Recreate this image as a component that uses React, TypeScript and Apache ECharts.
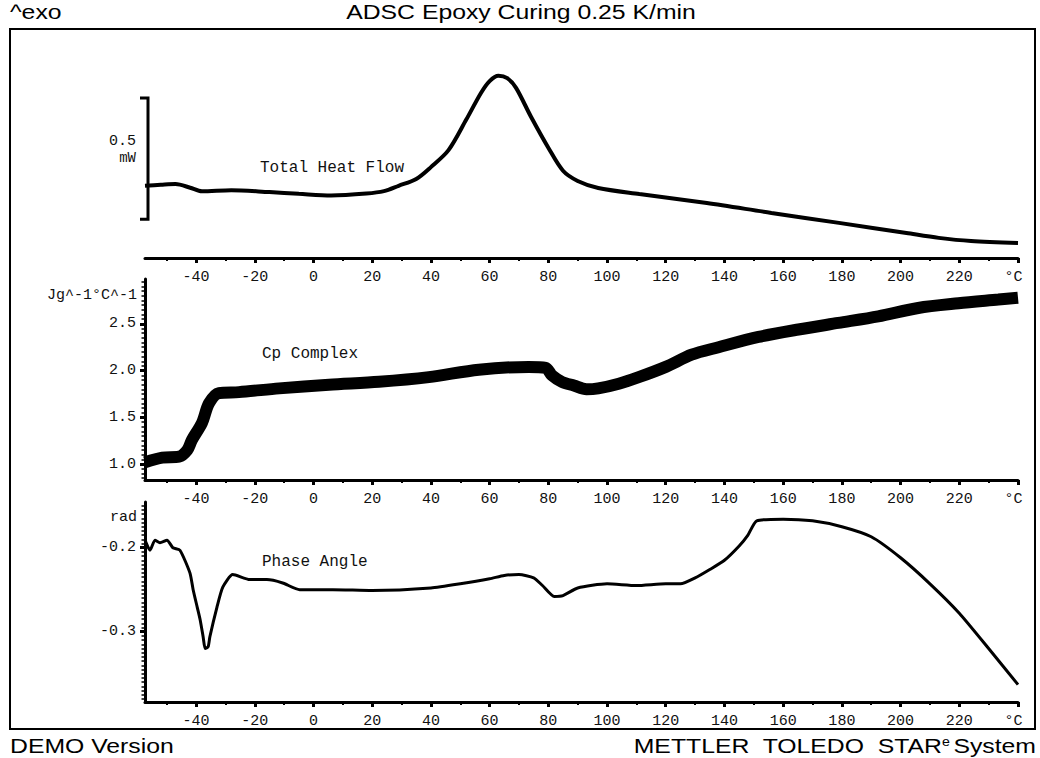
import React, { useEffect, useRef } from "react";
import * as echarts from "echarts";

// ---- data ----
const X_MIN = -57.4;
const X_MAX = 240;
const X_MAJOR = [-40, -20, 0, 20, 40, 60, 80, 100, 120, 140, 160, 180, 200, 220, 240];
const X_MINOR = [-50, -30, -10, 10, 30, 50, 70, 90, 110, 130, 150, 170, 190, 210, 230];

// Total Heat Flow (mW, relative offset)
const HF_T = [-57.4, -52, -47, -42, -38, -28, -15, -5, 6, 18, 24, 29, 35, 40, 46, 52, 57, 60, 63, 66, 69, 74, 80, 85, 90, 97, 111, 134, 156, 179, 202, 213, 224, 240];
const HF_V = [0.298, 0.302, 0.305, 0.29, 0.275, 0.28, 0.272, 0.265, 0.258, 0.266, 0.276, 0.298, 0.326, 0.375, 0.445, 0.57, 0.68, 0.73, 0.752, 0.742, 0.702, 0.585, 0.455, 0.36, 0.318, 0.289, 0.264, 0.227, 0.186, 0.145, 0.103, 0.083, 0.07, 0.062];
const HF_SCALE_BAR = [0.16, 0.66];

// Cp Complex (J g^-1 °C^-1)
const CP_T = [-57.4, -51.5, -45.8, -43, -41.4, -38, -35.6, -32.2, -25.4, -11.7, 5.3, 22.3, 39.3, 56.3, 73.3, 79.1, 81.2, 84.6, 88.7, 93, 97, 104, 110.8, 120, 128.8, 138, 151.6, 165.2, 178.8, 192.4, 206, 219.7, 233.3, 240];
const CP_V = [1.02, 1.07, 1.08, 1.15, 1.26, 1.44, 1.65, 1.76, 1.77, 1.81, 1.85, 1.88, 1.93, 2.01, 2.04, 2.03, 1.95, 1.88, 1.84, 1.8, 1.81, 1.86, 1.93, 2.04, 2.17, 2.25, 2.36, 2.44, 2.51, 2.58, 2.67, 2.72, 2.76, 2.78];
const CP_TICKS = [1.0, 1.5, 2.0, 2.5];
const CP_MIN = 0.83;
const CP_MAX = 2.98;
const CP_MINOR_STEP = 0.05;

// Phase Angle (rad)
const PH_T = [-57.4, -55.7, -54, -52.3, -49.9, -47.9, -45.5, -42.1, -41, -39.6, -38.6, -37.6, -36.9, -35.9, -35.3, -32.9, -30.9, -27.5, -21.7, -15.9, -10.5, -4.7, 6.6, 20, 40, 50, 60, 65, 70, 75, 78, 82, 85, 90, 100, 110, 120, 125, 130, 135, 140, 145, 148, 151, 160, 170, 180, 190, 200, 210, 220, 230, 240];
const PH_V = [-0.191, -0.203, -0.191, -0.194, -0.191, -0.2, -0.203, -0.23, -0.25, -0.271, -0.286, -0.306, -0.32, -0.318, -0.306, -0.271, -0.247, -0.232, -0.238, -0.238, -0.242, -0.25, -0.25, -0.251, -0.248, -0.243, -0.237, -0.233, -0.232, -0.236, -0.245, -0.258, -0.257, -0.248, -0.243, -0.245, -0.243, -0.243, -0.236, -0.226, -0.215, -0.198, -0.185, -0.168, -0.166, -0.168, -0.175, -0.187, -0.212, -0.243, -0.278, -0.32, -0.363];
const PH_TICKS = [-0.3, -0.2];
const PH_MIN = -0.3837;
const PH_MAX = -0.1456;
const PH_MINOR_STEP = 0.005;

const zip = (xs: number[], ys: number[]) => xs.map((x, i) => [x, ys[i]]);
const stepsBetween = (lo: number, hi: number, step: number) => {
  const out: number[] = [];
  for (let k = Math.ceil(lo / step); k * step <= hi; k++) out.push(+(k * step).toFixed(4));
  return out;
};

const MONO = "Liberation Mono";
const SANS = "Liberation Sans";
const INK = "#000";
const SANS_SIZE = 21;
const SANS_STRETCH = 1.18;

export default function App() {
  const ref = useRef<HTMLDivElement>(null);

  useEffect(() => {
    document.body.style.margin = "0";
    const chart = echarts.init(ref.current!, null, { renderer: "svg" });

    const grids = [
      { left: 145, right: 22, top: 52, height: 206 },
      { left: 145, right: 22, top: 279, height: 201 },
      { left: 145, right: 22, top: 502, height: 200 },
    ];

    const xMajor = (gridIndex: number) => ({
      type: "value",
      gridIndex,
      position: "bottom",
      min: X_MIN,
      max: X_MAX,
      axisLine: { show: true, onZero: false, lineStyle: { color: INK, width: 3 } },
      axisTick: { show: true, customValues: X_MAJOR, length: 5, lineStyle: { color: INK, width: 3 } },
      axisLabel: {
        customValues: X_MAJOR,
        margin: 12,
        fontFamily: MONO,
        fontSize: 15,
        color: "#111",
        formatter: (v: number) => (v === 240 ? "°C " : String(v)),
      },
      splitLine: { show: false },
    });
    const xMinor = (gridIndex: number) => ({
      type: "value",
      gridIndex,
      position: "bottom",
      min: X_MIN,
      max: X_MAX,
      axisLine: { show: false, onZero: false },
      axisTick: { show: true, customValues: X_MINOR, length: 3, lineStyle: { color: INK, width: 2 } },
      axisLabel: { show: false },
      splitLine: { show: false },
    });

    const yMajor = (gridIndex: number, min: number, max: number, ticks: number[]) => ({
      type: "value",
      gridIndex,
      position: "left",
      min,
      max,
      axisLine: { show: true, onZero: false, lineStyle: { color: INK, width: 3 } },
      axisTick: { show: true, customValues: ticks, length: 5, lineStyle: { color: INK, width: 3 } },
      axisLabel: {
        customValues: ticks,
        margin: 9,
        fontFamily: MONO,
        fontSize: 15,
        color: "#111",
        formatter: (v: number) => v.toFixed(1),
      },
      splitLine: { show: false },
    });
    const yMinor = (gridIndex: number, min: number, max: number, step: number) => ({
      type: "value",
      gridIndex,
      position: "left",
      offset: 0,
      min,
      max,
      axisLine: { show: false, onZero: false },
      axisTick: { show: true, customValues: stepsBetween(min, max, step), length: 3.5, lineStyle: { color: INK, width: 1.5 } },
      axisLabel: { show: false },
      splitLine: { show: false },
    });

    chart.setOption({
      animation: false,
      backgroundColor: "#fff",
      grid: grids,
      xAxis: [xMajor(0), xMinor(0), xMajor(1), xMinor(1), xMajor(2), xMinor(2)],
      yAxis: [
        { type: "value", gridIndex: 0, min: 0, max: 0.85, show: false },
        yMajor(1, CP_MIN, CP_MAX, CP_TICKS),
        yMajor(2, PH_MIN, PH_MAX, PH_TICKS),
        yMinor(1, CP_MIN, CP_MAX, CP_MINOR_STEP),
        yMinor(2, PH_MIN, PH_MAX, PH_MINOR_STEP),
      ],
      series: [
        {
          name: "Total Heat Flow",
          type: "line",
          xAxisIndex: 0,
          yAxisIndex: 0,
          data: zip(HF_T, HF_V),
          symbol: "none",
          smooth: 0.3,
          lineStyle: { color: INK, width: 4 },
        },
        {
          name: "Cp Complex",
          type: "line",
          xAxisIndex: 2,
          yAxisIndex: 1,
          data: zip(CP_T, CP_V),
          symbol: "none",
          smooth: 0.3,
          lineStyle: { color: INK, width: 12 },
        },
        {
          name: "Phase Angle",
          type: "line",
          xAxisIndex: 4,
          yAxisIndex: 2,
          data: zip(PH_T, PH_V),
          symbol: "none",
          smooth: 0.2,
          lineStyle: { color: INK, width: 3 },
        },
      ],
    });

    const p1 = chart.convertToPixel({ xAxisIndex: 0, yAxisIndex: 0 }, [X_MIN, HF_SCALE_BAR[0]]) as number[];
    const p2 = chart.convertToPixel({ xAxisIndex: 0, yAxisIndex: 0 }, [X_MIN, HF_SCALE_BAR[1]]) as number[];
    const bx = p1[0] + 3;
    const monoText = (x: number, y: number, text: string, align = "left", size = 16) => ({
      type: "text",
      x,
      y,
      style: { text, fontFamily: MONO, fontSize: size, fill: "#111", align, verticalAlign: "middle" },
    });
    const sansText = (x: number, y: number, text: string, align: string, rich?: any) => ({
      type: "text",
      x,
      y,
      scaleX: SANS_STRETCH,
      style: {
        text,
        fontFamily: SANS,
        fontSize: SANS_SIZE,
        fill: INK,
        align,
        verticalAlign: "middle",
        ...(rich ? { rich } : {}),
      },
    });

    chart.setOption({
      graphic: [
        {
          type: "rect",
          shape: { x: 10, y: 29, width: 1025, height: 700 },
          style: { fill: "none", stroke: INK, lineWidth: 2 },
        },
        {
          type: "polyline",
          shape: { points: [[bx - 8, p1[1]], [bx, p1[1]], [bx, p2[1]], [bx - 8, p2[1]]] },
          style: { fill: "none", stroke: INK, lineWidth: 3 },
        },
        monoText(136, 141, "0.5", "right", 15),
        monoText(136, 158, "mW", "right", 14),
        monoText(260, 168, "Total Heat Flow"),
        monoText(262, 354, "Cp Complex"),
        monoText(262, 562, "Phase Angle"),
        monoText(137, 295, "Jg^-1°C^-1", "right", 15),
        monoText(137, 517, "rad", "right", 15),
        sansText(10, 12, "^exo", "left"),
        sansText(521, 12, "ADSC Epoxy Curing 0.25 K/min", "center"),
        sansText(10, 746, "DEMO Version", "left"),
        sansText(1036, 746, "METTLER  TOLEDO  STAR{sup|e}System", "right", {
          sup: { fontFamily: SANS, fontSize: 12, verticalAlign: "top", padding: [0, 3, 9, 0] },
        }),
      ],
    });

    return () => chart.dispose();
  }, []);

  return <div ref={ref} style={{ width: 1040, height: 758 }} />;
}
